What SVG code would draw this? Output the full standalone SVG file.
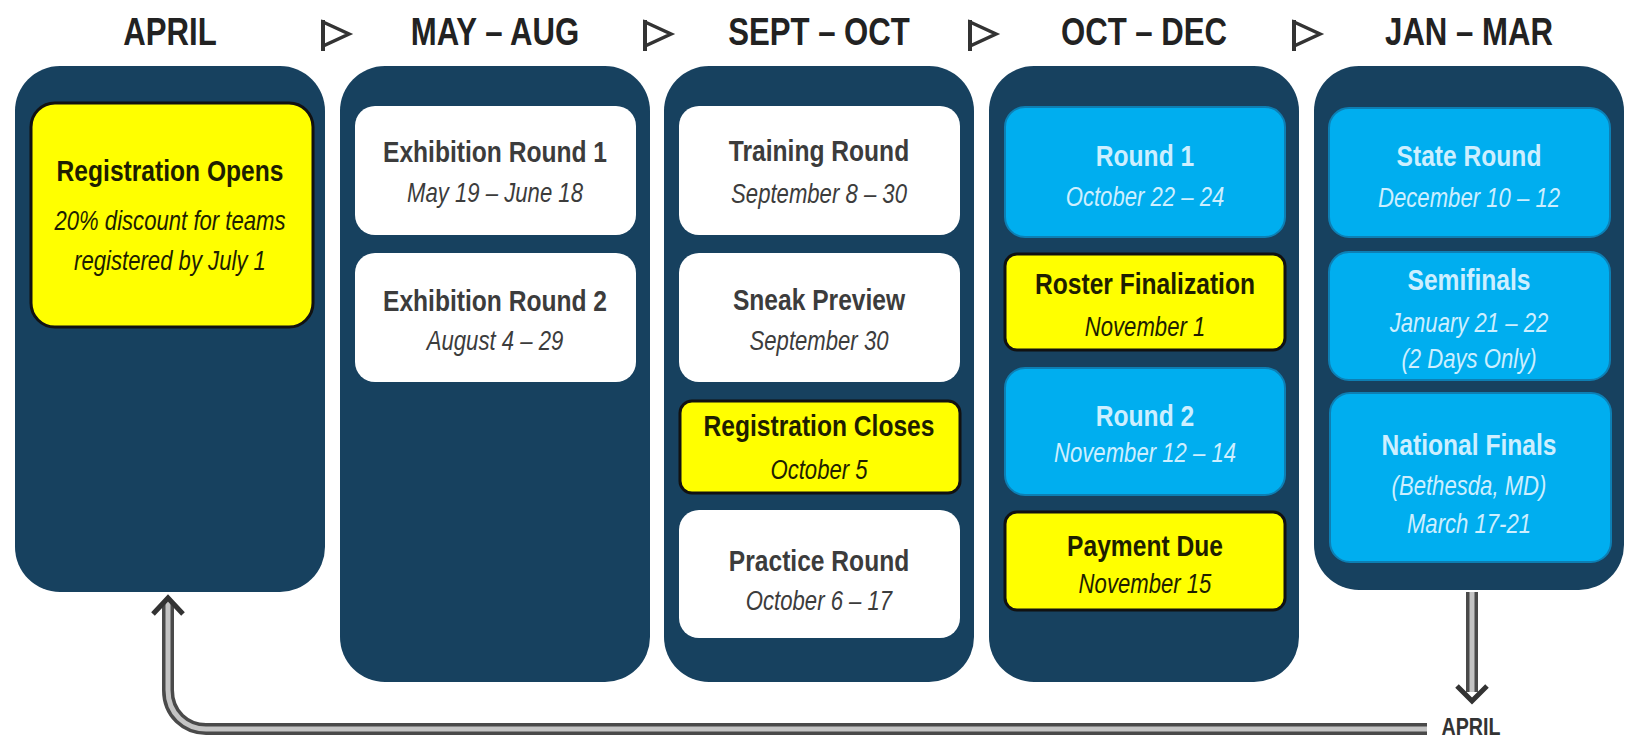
<svg xmlns="http://www.w3.org/2000/svg" width="1630" height="738" viewBox="0 0 1630 738">
  <style>
    text { font-family: "Liberation Sans", Arial, sans-serif; text-anchor: middle; }
    .hdr { font-size: 38px; font-weight: bold; fill: #222; }
    .col { fill: #17415f; }
    .wbox { fill: #ffffff; }
    .cbox { fill: #00aeef; stroke: #0d7fb4; stroke-width: 2; }
    .ybox { fill: #ffff00; stroke: #111; stroke-width: 3; }
    .t { font-size: 30px; font-weight: bold; }
    .d { font-size: 27px; font-style: italic; }
    .dark { fill: #3c3c3c; }
    .blk { fill: #1e1e00; }
    .lt { fill: #cdefff; }
    .step { fill: #fff; stroke: #333; stroke-width: 3.5; stroke-linejoin: miter; }
    .pipe-o { fill: none; stroke: #4a4a4a; stroke-width: 12; }
    .pipe-i { fill: none; stroke: #c4c4c4; stroke-width: 5; }
    .head { fill: none; stroke: #333; stroke-width: 5; stroke-linejoin: miter; }
    .lbl { font-size: 24px; font-weight: bold; fill: #333; }
  </style>

  <!-- period headings, condensed horizontally -->
  <g id="headings">
    <text class="hdr" transform="matrix(.82 0 0 1 170 0)" x="0" y="45">APRIL</text>
    <text class="hdr" transform="matrix(.82 0 0 1 495 0)" x="0" y="45">MAY – AUG</text>
    <text class="hdr" transform="matrix(.82 0 0 1 819 0)" x="0" y="45">SEPT – OCT</text>
    <text class="hdr" transform="matrix(.82 0 0 1 1144 0)" x="0" y="45">OCT – DEC</text>
    <text class="hdr" transform="matrix(.82 0 0 1 1469 0)" x="0" y="45">JAN – MAR</text>
  </g>

  <!-- step markers between headings -->
  <g id="steps">
    <path class="step" d="M323,22 L349,34 L323,46 Z"/><path d="M323,20 V51" stroke="#333" stroke-width="4"/>
    <path class="step" d="M645,22 L671,34 L645,46 Z"/><path d="M645,20 V51" stroke="#333" stroke-width="4"/>
    <path class="step" d="M970,22 L996,34 L970,46 Z"/><path d="M970,20 V51" stroke="#333" stroke-width="4"/>
    <path class="step" d="M1294,22 L1320,34 L1294,46 Z"/><path d="M1294,20 V51" stroke="#333" stroke-width="4"/>
  </g>

  <!-- April -->
  <g id="col-april">
    <rect class="col" x="15" y="66" width="310" height="526" rx="45"/>
    <g id="registration-opens">
      <rect class="ybox" x="31" y="103" width="282" height="224" rx="24"/>
      <g transform="translate(170 0) scale(.82 1)">
        <text class="t blk" x="0" y="181">Registration Opens</text>
        <text class="d blk" x="0" y="230">20% discount for teams</text>
        <text class="d blk" x="0" y="270">registered by July 1</text>
      </g>
    </g>
  </g>

  <!-- May - Aug -->
  <g id="col-may-aug">
    <rect class="col" x="340" y="66" width="310" height="616" rx="45"/>
    <g id="exhibition-1">
      <rect class="wbox" x="355" y="106" width="281" height="129" rx="20"/>
      <g transform="translate(495 0) scale(.82 1)">
        <text class="t dark" x="0" y="162">Exhibition Round 1</text>
        <text class="d dark" x="0" y="202">May 19 – June 18</text>
      </g>
    </g>
    <g id="exhibition-2">
      <rect class="wbox" x="355" y="253" width="281" height="129" rx="20"/>
      <g transform="translate(495 0) scale(.82 1)">
        <text class="t dark" x="0" y="311">Exhibition Round 2</text>
        <text class="d dark" x="0" y="350">August 4 – 29</text>
      </g>
    </g>
  </g>

  <!-- Sept - Oct -->
  <g id="col-sept-oct">
    <rect class="col" x="664" y="66" width="310" height="616" rx="45"/>
    <g id="training-round">
      <rect class="wbox" x="679" y="106" width="281" height="129" rx="20"/>
      <g transform="translate(819 0) scale(.82 1)">
        <text class="t dark" x="0" y="161">Training Round</text>
        <text class="d dark" x="0" y="203">September 8 – 30</text>
      </g>
    </g>
    <g id="sneak-preview">
      <rect class="wbox" x="679" y="253" width="281" height="129" rx="20"/>
      <g transform="translate(819 0) scale(.82 1)">
        <text class="t dark" x="0" y="310">Sneak Preview</text>
        <text class="d dark" x="0" y="350">September 30</text>
      </g>
    </g>
    <g id="registration-closes">
      <rect class="ybox" x="680" y="401" width="280" height="92" rx="12"/>
      <g transform="translate(819 0) scale(.82 1)">
        <text class="t blk" x="0" y="436">Registration Closes</text>
        <text class="d blk" x="0" y="479">October 5</text>
      </g>
    </g>
    <g id="practice-round">
      <rect class="wbox" x="679" y="510" width="281" height="128" rx="20"/>
      <g transform="translate(819 0) scale(.82 1)">
        <text class="t dark" x="0" y="571">Practice Round</text>
        <text class="d dark" x="0" y="610">October 6 – 17</text>
      </g>
    </g>
  </g>

  <!-- Oct - Dec -->
  <g id="col-oct-dec">
    <rect class="col" x="989" y="66" width="310" height="616" rx="45"/>
    <g id="round-1">
      <rect class="cbox" x="1005" y="107" width="280" height="130" rx="20"/>
      <g transform="translate(1145 0) scale(.82 1)">
        <text class="t lt" x="0" y="166">Round 1</text>
        <text class="d lt" x="0" y="206">October 22 – 24</text>
      </g>
    </g>
    <g id="roster-finalization">
      <rect class="ybox" x="1005" y="254" width="280" height="96" rx="12"/>
      <g transform="translate(1145 0) scale(.82 1)">
        <text class="t blk" x="0" y="294">Roster Finalization</text>
        <text class="d blk" x="0" y="336">November 1</text>
      </g>
    </g>
    <g id="round-2">
      <rect class="cbox" x="1005" y="368" width="280" height="127" rx="20"/>
      <g transform="translate(1145 0) scale(.82 1)">
        <text class="t lt" x="0" y="426">Round 2</text>
        <text class="d lt" x="0" y="462">November 12 – 14</text>
      </g>
    </g>
    <g id="payment-due">
      <rect class="ybox" x="1005" y="512" width="280" height="98" rx="12"/>
      <g transform="translate(1145 0) scale(.82 1)">
        <text class="t blk" x="0" y="556">Payment Due</text>
        <text class="d blk" x="0" y="593">November 15</text>
      </g>
    </g>
  </g>

  <!-- Jan - Mar -->
  <g id="col-jan-mar">
    <rect class="col" x="1314" y="66" width="310" height="524" rx="45"/>
    <g id="state-round">
      <rect class="cbox" x="1329" y="108" width="281" height="129" rx="20"/>
      <g transform="translate(1469 0) scale(.82 1)">
        <text class="t lt" x="0" y="166">State Round</text>
        <text class="d lt" x="0" y="207">December 10 – 12</text>
      </g>
    </g>
    <g id="semifinals">
      <rect class="cbox" x="1329" y="252" width="281" height="128" rx="20"/>
      <g transform="translate(1469 0) scale(.82 1)">
        <text class="t lt" x="0" y="290">Semifinals</text>
        <text class="d lt" x="0" y="332">January 21 – 22</text>
        <text class="d lt" x="0" y="368">(2 Days Only)</text>
      </g>
    </g>
    <g id="national-finals">
      <rect class="cbox" x="1330" y="393" width="281" height="169" rx="20"/>
      <g transform="translate(1469 0) scale(.82 1)">
        <text class="t lt" x="0" y="455">National Finals</text>
        <text class="d lt" x="0" y="495">(Bethesda, MD)</text>
        <text class="d lt" x="0" y="533">March 17-21</text>
      </g>
    </g>
  </g>

  <!-- cycle back to April -->
  <g id="connectors">
    <path class="pipe-o" d="M1472,592 V692"/>
    <path class="pipe-i" d="M1472,592 V692"/>
    <path class="head" d="M1457,686 L1472,701 L1487,686"/>
    <path class="pipe-o" d="M1427,729 H206 C186,729 168,714 168,690 V602"/>
    <path class="pipe-i" d="M1427,729 H206 C186,729 168,714 168,690 V602"/>
    <path class="head" d="M153,614 L168,598 L183,614"/>
    <text class="lbl" transform="matrix(.82 0 0 1 1471 0)" x="0" y="735">APRIL</text>
  </g>
</svg>
